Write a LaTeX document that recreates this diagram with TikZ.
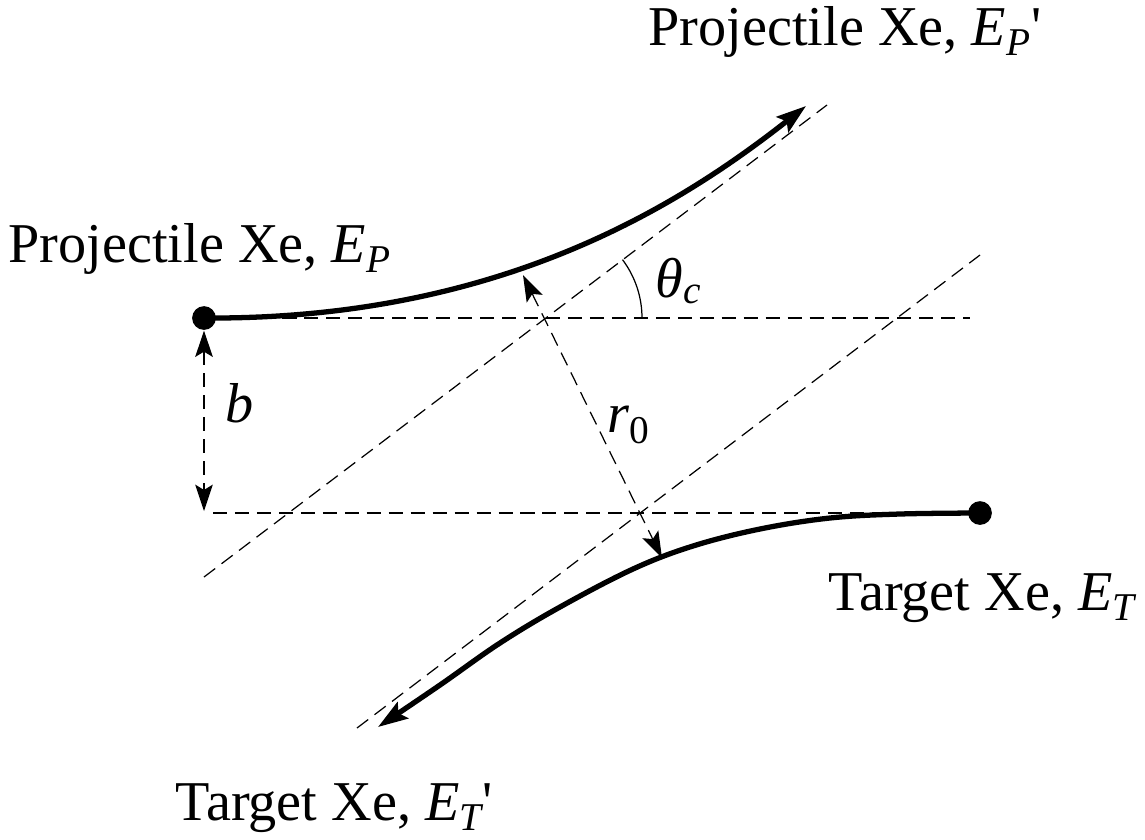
\documentclass[tikz,border=0pt]{standalone}
\usepackage{amsmath}
\usepackage{fontspec}
\setmainfont{Liberation Serif}
\usetikzlibrary{positioning, arrows.meta, calc}
\tikzset{every picture/.append style={thick}}
\tikzset{
    traj/.style={line width=3pt, -{Stealth[length=17pt, width=11pt, inset=3pt]}},
    guide/.style={line width=0.7pt, dash pattern=on 8pt off 4.5pt},
    guidearrow/.style={guide, {Stealth[length=15pt, width=10pt, inset=3pt]}-{Stealth[length=15pt, width=10pt, inset=3pt]}},
    dot/.style={circle, fill, inner sep=0pt, minimum size=13.5pt},
    lbl/.style={font=\fontsize{32}{38}\selectfont, inner sep=0pt, anchor=base west}
}

\begin{document}
\begin{tikzpicture}[x=0.02cm, y=-0.02cm]
        \useasboundingbox (0,0) rectangle (1145,839);

        % ==========================================
        % Particles and reference points
        % ==========================================
        \node[dot] (proj) at (204,318) {};
        \node[dot] (targ) at (980,513) {};
        \coordinate (cp) at (545,318);      % crossing on projectile line
        \coordinate (ct) at (638,513);      % crossing on target line
        \coordinate (rtop) at (523,275);
        \coordinate (rbot) at (662,558);
        \coordinate (bfoot) at (204,511);
        \coordinate (projend) at (806,106);
        \coordinate (targend) at (378,727);

        % 1. Dashed guide lines
        \draw[guide] (proj) -- (970,318);
        \draw[guide] (213,513) -- (targ);
        \draw[guide] (204,577) -- (827,105);
        \draw[guide] (357,728) -- (980,255);

        % 2. Impact parameter and distance of closest approach
        \draw[guidearrow] (proj) -- (bfoot);
        \draw[guidearrow] (rtop) -- (rbot);

        % 3. Scattering angle
        \draw[line width=0.7pt] ($(cp)+(97,0)$) arc[start angle=0, end angle=-37, radius=97];

        % 4. Trajectories
        \draw[traj] (proj.center) .. controls (500,320) and (680,205) .. (projend);
        \draw[traj] plot[smooth, tension=0.6] coordinates {(targ.center) (900,514) (830,518) (760,529) (693,546) (633,569) (560,607) (500,643) (440,685) (targend)};

        % 5. Labels
        \node[lbl] (projin) at (8,262) {Projectile Xe, $\textit{E}_{\textit{P}}$};
        \node[lbl] (projout) at (648,45) {Projectile Xe, $\textit{E}_{\textit{P}}$\textquotesingle};
        \node[lbl] (targin) at (828,610) {Target Xe, $\textit{E}_{\textit{T}}$};
        \node[lbl] (targout) at (175,820) {Target Xe, $\textit{E}_{\textit{T}}$\textquotesingle};
        \node[lbl] (blabel) at (225,422) {\textit{b}};
        \node[lbl] (rlabel) at (607,432) {\textit{r}$_{\text{0}}$};
        \node[lbl] (thlabel) at (655,297) {\textit{θ}$_{\textit{c}}$};

    \end{tikzpicture}
\end{document}
